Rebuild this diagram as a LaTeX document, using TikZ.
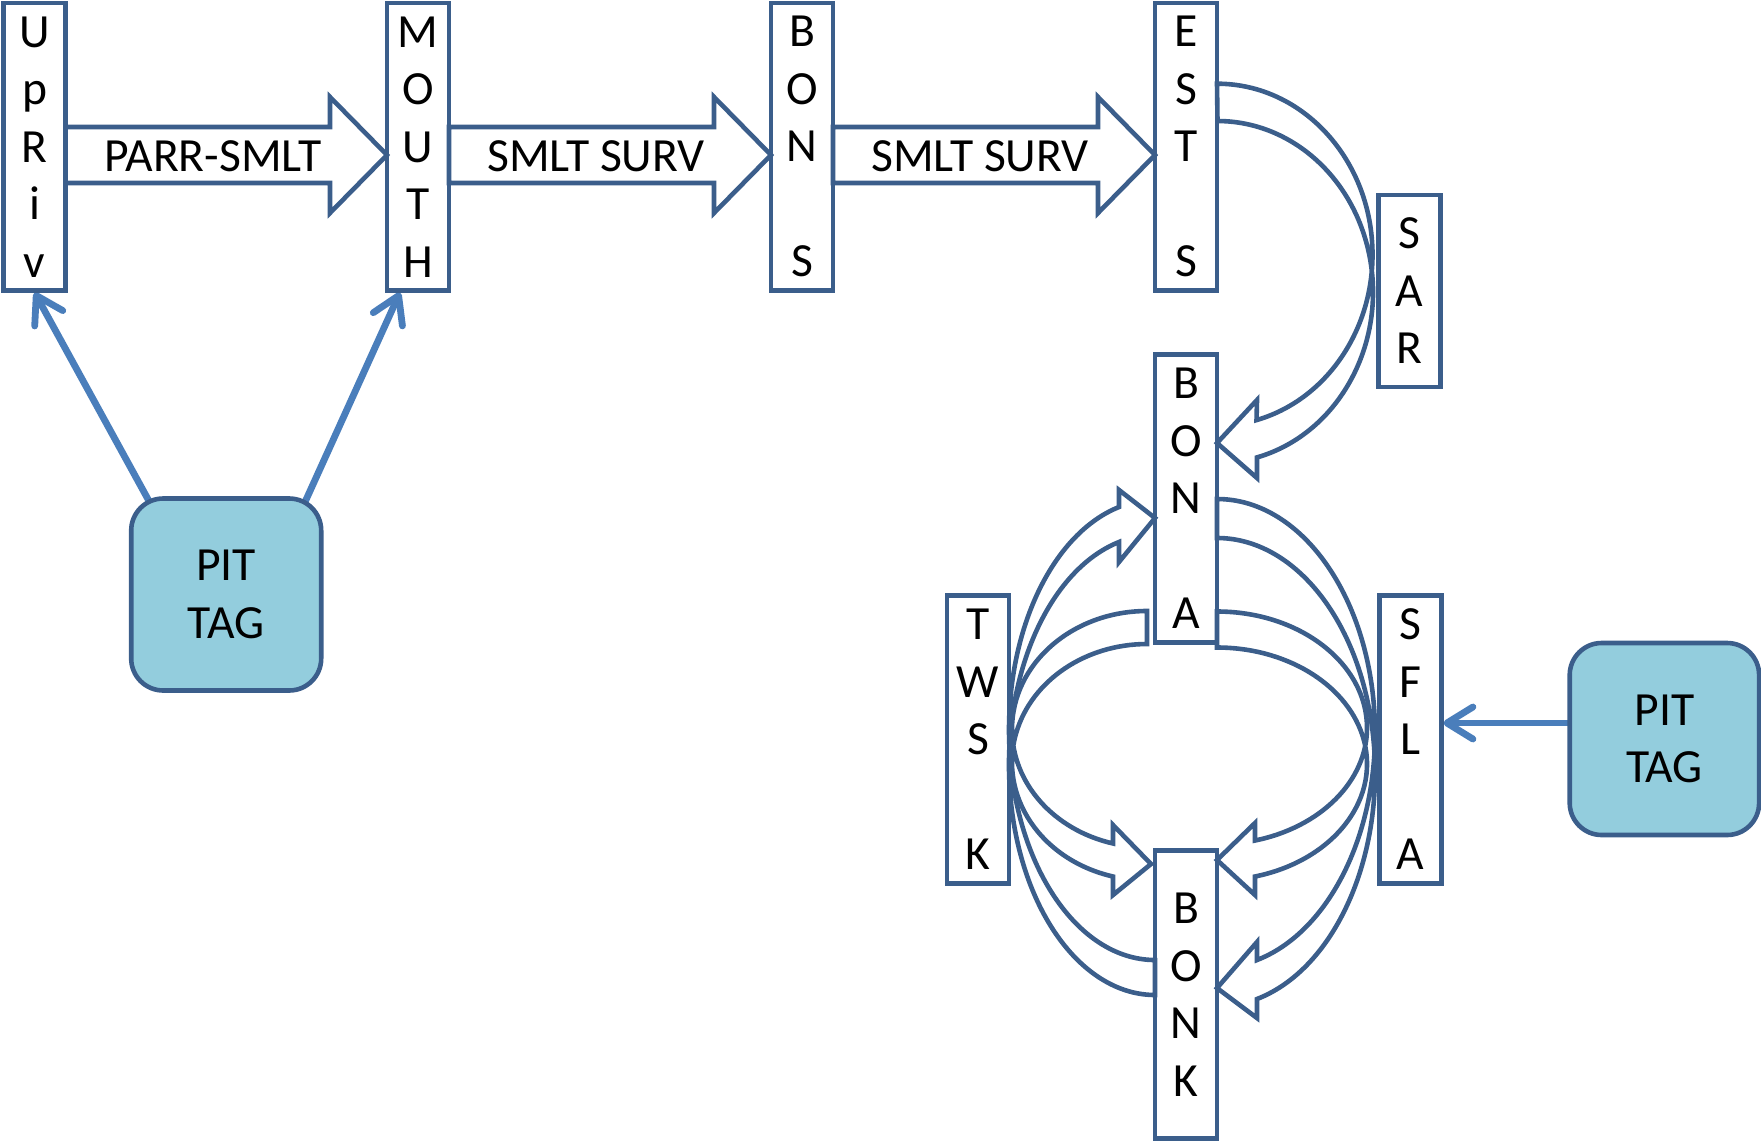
\documentclass[tikz,border=0pt]{standalone}
\usepackage{fontspec}
\setmainfont{Carlito}
\usetikzlibrary{arrows.meta}
\definecolor{dkblue}{RGB}{59,94,139}
\definecolor{ltblue}{RGB}{74,126,187}
\definecolor{tagfill}{RGB}{147,205,221}
\pgfdeclarelayer{bg}
\pgfsetlayers{bg,main}
\begin{document}
\begin{tikzpicture}[x=0.5pt, y=-0.5pt,
  txt/.style={font=\fontsize{23.8pt}{28.75pt}\selectfont},
  vbox/.style={txt, draw=dkblue, line width=2.3pt, fill=white, inner sep=0pt,
    outer sep=0pt, minimum width=31pt, minimum height=143.75pt, align=center},
  tagbox/.style={txt, draw=dkblue, line width=2.3pt, fill=tagfill, inner sep=0pt,
    outer sep=0pt, rounded corners=16pt, minimum width=95pt, minimum height=96pt,
    align=center},
  blk/.style={draw=dkblue, line width=2.3pt, line join=miter},
  band/.style={draw=dkblue, line width=2.3pt, line join=miter},
  lbl/.style={txt, inner sep=0pt},
  tagarrow/.style={draw=ltblue, line width=3.4pt,
    -{Straight Barb[round, length=13pt, width=16pt]}}]
\useasboundingbox (0,0) rectangle (1761,1141);

% stations
\node[vbox] (upriv) at (34.6,146.75) {U\\p\\R\\i\\v};
\node[vbox] (mouth) at (418,146.75) {M\\O\\U\\T\\H};
\node[vbox] (bons)  at (802,146.75) {B\\O\\N\\[28.75pt]S};
\node[vbox] (ests)  at (1186,146.75) {E\\S\\T\\[28.75pt]S};
\node[vbox, minimum height=96pt] (sar) at (1409.5,291) {S\\A\\R};
\node[vbox] (bona)  at (1186,498.5) {B\\O\\N\\[28.75pt]A};
\node[vbox] (twsk)  at (978,739.5) {T\\W\\S\\[28.75pt]K};
\node[vbox] (sfla)  at (1410.5,739.5) {S\\F\\L\\[28.75pt]A};
\node[vbox] (bonk)  at (1186,994.5) {B\\O\\N\\K};

% tagging sites
\node[tagbox] (tag1) at (226.2,594.5) {PIT\\TAG};
\node[tagbox, minimum width=94.7pt] (tag2) at (1664.4,739) {PIT\\TAG};

% straight block arrows along the main stem
\draw[blk] (upriv.east |- 0,127) -- (330,127) -- (330,97) -- (mouth.west |- 0,155)
  -- (330,213) -- (330,183) -- (upriv.east |- 0,183) -- cycle;
\draw[blk] (mouth.east |- 0,127) -- (714,127) -- (714,97) -- (bons.west |- 0,155)
  -- (714,213) -- (714,183) -- (mouth.east |- 0,183) -- cycle;
\draw[blk] (bons.east |- 0,127) -- (1098,127) -- (1098,97) -- (ests.west |- 0,155)
  -- (1098,213) -- (1098,183) -- (bons.east |- 0,183) -- cycle;
\node[lbl] (l1) at (213,156) {PARR-SMLT};
\node[lbl] (l2) at (596,156) {SMLT SURV};
\node[lbl] (l3) at (980,156) {SMLT SURV};

% curved block arrows (two congruent elliptic arcs each)
\draw[band] (ests.east |- 0,83.7)
  arc[start angle=-90, end angle=75.28, x radius=155.5, y radius=171]
  -- (1257,400) -- (bona.east |- 0,443) -- (1257,478) -- (1257,457.4)
  arc[start angle=75.28, end angle=-90, x radius=155.5, y radius=171] -- cycle;
\draw[band] (bona.east |- 0,499)
  arc[start angle=-90, end angle=75.335, x radius=158, y radius=234.32]
  -- (1257,942) -- (bonk.east |- 0,988) -- (1257,1018) -- (1257,999)
  arc[start angle=75.335, end angle=-90, x radius=158, y radius=234.32] -- cycle;
\draw[band] (bona.east |- 0,611.5)
  arc[start angle=-90, end angle=75.325, x radius=150, y radius=116.4]
  -- (1255,823) -- (bonk.east |- 0,860) -- (1255,895) -- (1255,876.5)
  arc[start angle=75.325, end angle=-90, x radius=150, y radius=116.4] -- cycle;
\draw[band] (1147,611)
  arc[start angle=-90, end angle=-255.413, x radius=135, y radius=118.15]
  -- (1113,825) -- (1151,864) -- (1113,895) -- (1113,876.5)
  arc[start angle=-255.413, end angle=-90, x radius=135, y radius=118.15] -- cycle;
\draw[band] (bonk.west |- 0,960)
  arc[start angle=90, end angle=255.725, x radius=146, y radius=230.05]
  -- (1119,490) -- (bona.west |- 0,518) -- (1119,562) -- (1119,542)
  arc[start angle=255.725, end angle=90, x radius=146, y radius=230.05] -- cycle;

% tag detection arrows
\begin{pgfonlayer}{bg}
\draw[tagarrow] ([xshift=10.75pt,yshift=-4.65pt]tag1.north west) -- ([yshift=-1pt]upriv.south);
\draw[tagarrow] ([xshift=-9.4pt,yshift=-4.65pt]tag1.north east) -- ([xshift=-9pt,yshift=-1pt]mouth.south);
\draw[tagarrow] ([xshift=4pt,yshift=8pt]tag2.west) -- ([xshift=1pt,yshift=8.25pt]sfla.east);
\end{pgfonlayer}
\end{tikzpicture}
\end{document}
